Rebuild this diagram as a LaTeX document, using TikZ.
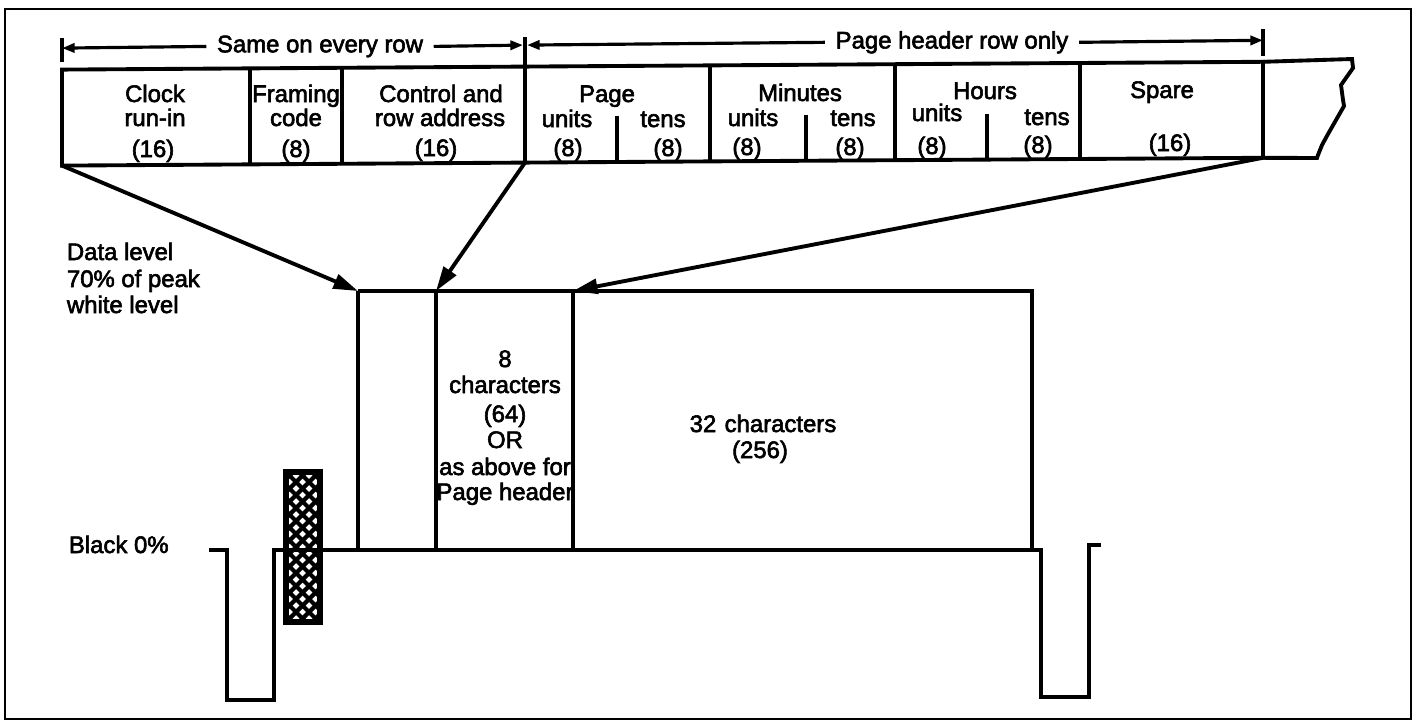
\documentclass[tikz,border=0pt]{standalone}
\usepackage{fontspec}
\setmainfont{Liberation Sans}[BoldFont=Liberation Sans, BoldFeatures={FakeBold=2.5}]
\usetikzlibrary{arrows.meta, positioning}

\begin{document}
\begin{tikzpicture}[x=0.01cm, y=-0.01cm, line width=1.1pt, line join=miter,
    >={Triangle[length=7pt,width=4.2pt]},
    txt/.style={font=\fontsize{6.8}{7.2}\selectfont\bfseries, inner sep=0pt, anchor=base},
    txtl/.style={txt, anchor=base west},
    dimtxt/.style={font=\fontsize{6.8}{7.2}\selectfont\bfseries, inner sep=2.5pt, anchor=center},
    dimarrow/.style={line width=0.9pt, -{Triangle[length=3.6pt,width=2.6pt]}}]

    \useasboundingbox (0,0) rectangle (1416,724);

    % --- Outer frame ---
    \draw[line width=0.8pt] (5,9) rectangle (1411,719);

    % --- Header row (scan is slightly skewed) ---
    \begin{scope}[yslant=0.0065]
        % dimension line above the row
        \coordinate (dimL) at (62,48.5);
        \coordinate (dimM) at (523,48.5);
        \coordinate (dimN) at (527,48.5);
        \coordinate (dimR) at (1263,48.5);
        \draw[line width=0.9pt] (62,38.5) -- (62,62.5);
        \draw[line width=0.9pt] (525,40) -- (525,70);
        \draw[line width=0.9pt] (1263,37.5) -- (1263,64.5);
        \node[dimtxt] (same) at (320,48.5) {Same on every row};
        \node[dimtxt] (header) at (952,48.5) {Page header row only};
        \draw[dimarrow] (same.west) -- (dimL);
        \draw[dimarrow] (same.east) -- (dimM);
        \draw[dimarrow] (header.west) -- (dimN);
        \draw[dimarrow] (header.east) -- (dimR);

        % cells
        \draw (62,70) rectangle (1263,166);
        \foreach \x in {250,342,525,710,895,1080}
            \draw (\x,70) -- (\x,166);
        \foreach \x in {617,806,987}
            \draw (\x,120) -- (\x,166);

        \coordinate (clkBL) at (62,166);
        \coordinate (ctlBR) at (525,166);
        \coordinate (spareBR) at (1263,166);
    \end{scope}
    % torn end
    \draw (1263,61.8) -- (1352,59) -- (1353,68) -- (1341,85) -- (1343,100)
        -- (1344,106) -- (1336,120) -- (1328,134) -- (1322,145)
        -- (1318,155) -- (1317,158) -- (1263,157.8);

    % --- Header row labels ---
    \node[txt] (clock) at (155,102) {Clock};
    \node[txt] (runin) at (155,126) {run-in};
    \node[txt] (clockn) at (153,157) {(16)};
    \node[txt] (framing) at (296,102) {Framing};
    \node[txt] (code) at (296,126) {code};
    \node[txt] (framingn) at (296,157) {(8)};
    \node[txt] (control) at (441,102) {Control and};
    \node[txt] (rowaddr) at (440,126) {row address};
    \node[txt] (controln) at (436,156) {(16)};
    \node[txt] (page) at (607,102) {Page};
    \node[txt] (pageu) at (567,127) {units};
    \node[txt] (paget) at (663,127) {tens};
    \node[txt] (pageun) at (568,156) {(8)};
    \node[txt] (pagetn) at (668,156) {(8)};
    \node[txt] (minutes) at (800,101) {Minutes};
    \node[txt] (minu) at (753,126) {units};
    \node[txt] (mint) at (853,126) {tens};
    \node[txt] (minun) at (747,155) {(8)};
    \node[txt] (mintn) at (850,155) {(8)};
    \node[txt] (hours) at (985,99) {Hours};
    \node[txt] (hrsu) at (937,121) {units};
    \node[txt] (hrst) at (1047,125) {tens};
    \node[txt] (hrsun) at (932,154) {(8)};
    \node[txt] (hrstn) at (1038,153) {(8)};
    \node[txt] (spare) at (1162,98) {Spare};
    \node[txt] (sparen) at (1170,151) {(16)};

    % --- Corners of the data line ---
    \coordinate (dataTL) at (358,291);
    \coordinate (pageTL) at (436,291);
    \coordinate (charTL) at (573,291);
    \coordinate (dataTR) at (1032,291);

    % --- Expansion arrows ---
    \draw[->] (clkBL) -- (dataTL);
    \draw[->] (ctlBR) -- (pageTL);
    \draw[->] (spareBR) -- (charTL);

    % --- Data line ---
    \draw (dataTL) -- (dataTR) -- (1032,550);
    \draw (dataTL) -- (358,550);
    \draw (pageTL) -- (436,550);
    \draw (charTL) -- (573,550);

    % --- Waveform at black level ---
    \draw (209,550) -- (227,550) -- (227,700) -- (274,700) -- (274,550)
        -- (1041,550) -- (1041,697) -- (1089,697) -- (1089,545) -- (1101,545);

    % --- Hatched pulse ---
    \begin{scope}
        \clip (286,472) rectangle (320,622);
        \foreach \k in {130,143,...,330} {
            \draw[line width=1.2pt] (\k,472) -- (\k+150,622);
            \draw[line width=1.2pt] (\k,622) -- (\k+150,472);
        }
    \end{scope}
    \draw[line width=1.5pt] (286,472) rectangle (320,622);

    % --- Data line labels ---
    \node[txt] (eight) at (505,367) {8};
    \node[txt] (chars) at (505,393) {characters};
    \node[txt] (sixtyfour) at (505,422) {(64)};
    \node[txt] (orlbl) at (505,448) {OR};
    \node[txt] (above) at (505,475) {as above for};
    \node[txt] (pghdr) at (505,500) {Page header};
    \node[txt] (thirtytwo) at (763,432) {32\hspace{0.35em}characters};
    \node[txt] (twofivesix) at (760,458) {(256)};

    % --- Level labels ---
    \node[txtl] (datalvl) at (65,260) {Data level};
    \node[txtl] (seventy) at (65,287) {70\% of peak};
    \node[txtl] (white) at (65,313) {white level};
    \node[txtl] (black) at (67,553) {Black 0\%};

\end{tikzpicture}
\end{document}
